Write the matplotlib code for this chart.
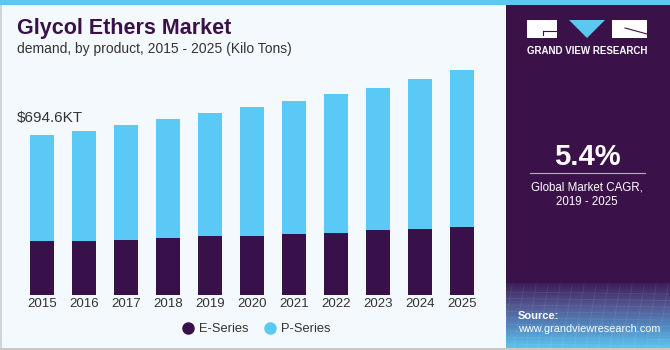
import numpy as np
import matplotlib.pyplot as plt
from matplotlib.patches import Rectangle, Polygon
from matplotlib.lines import Line2D
from matplotlib.colors import LinearSegmentedColormap

plt.rcParams['font.family'] = ['Liberation Sans', 'DejaVu Sans']

# Data (Kilo Tons)
years = ["2015", "2016", "2017", "2018", "2019", "2020",
         "2021", "2022", "2023", "2024", "2025"]
e_series = [234, 234, 239, 249, 256, 256, 263.5, 269, 281, 286.5, 294]
p_series = [460.6, 476.6, 499, 514, 534, 559, 580, 605, 619, 651.5, 684]
series_names = ["E-Series", "P-Series"]
first_label = "$694.6KT"
cagr = "5.4%"

dark = "#38104a"
light = "#5bc9f5"
bg = "#f4f9fd"

W, H = 670, 350
fig = plt.figure(figsize=(6.7, 3.5), dpi=100)
fig.patch.set_facecolor(bg)

# Background / decoration layer in pixel coordinates
deco = fig.add_axes([0, 0, 1, 1], zorder=0)
deco.set_xlim(0, W)
deco.set_ylim(H, 0)
deco.axis("off")
deco.add_patch(Rectangle((0, 0), W, 5, color="#5bc8f0", lw=0))
deco.add_patch(Rectangle((0, 5), 1.5, H, color="#cfd6da", lw=0))
deco.add_patch(Rectangle((0, H - 2), W, 2, color="#c8c8c8", lw=0))
deco.add_patch(Rectangle((506, 5), W - 506, 280, color="#3a1249", lw=0))

# gradient at the panel bottom
cmap = LinearSegmentedColormap.from_list("g", ["#3c1f58", "#52558f", "#5288c0", "#5cc4ef"])
grad = np.linspace(0, 1, 100).reshape(-1, 1)
deco.imshow(grad, cmap=cmap, aspect="auto", extent=(506, W, 348, 283), zorder=1)
for k in range(9):
    yy = 292 + k * 6.5
    deco.plot([506, W], [yy, yy + 2], color="white", alpha=0.08, lw=0.6, zorder=2)
for k in range(14):
    xx = 506 + k * 12
    deco.plot([xx + 6, xx - 4], [285, 348], color="white", alpha=0.08, lw=0.6, zorder=2)

# logo
deco.add_patch(Rectangle((527, 20), 30, 18, color="white", lw=0, zorder=3))
deco.add_patch(Rectangle((612, 20), 35, 18, color="white", lw=0, zorder=3))
deco.add_patch(Polygon([(569, 20), (605, 20), (587, 38)], closed=True, color="#5bc8f0", lw=0, zorder=3))
deco.plot([543, 557], [31, 31], color="#3a1249", lw=0.8, zorder=4)
deco.plot([543, 543], [31, 35], color="#3a1249", lw=0.8, zorder=4)
deco.plot([625, 647], [28, 34], color="#3a1249", lw=0.8, zorder=4)
deco.text(587, 51, "GRAND VIEW RESEARCH", color="white", fontsize=7,
          fontweight="bold", ha="center", va="center", zorder=4)

# CAGR block
deco.text(587, 157, cagr, color="white", fontsize=21, fontweight="bold",
          ha="center", va="center")
deco.plot([530, 645], [173, 173], color="#b9aec4", lw=0.8)
deco.text(587, 188, "Global Market CAGR,", color="white", fontsize=8.3,
          ha="center", va="center")
deco.text(587, 202, "2019 - 2025", color="white", fontsize=8.3,
          ha="center", va="center")

# source
deco.text(518, 316, "Source:", color="white", fontsize=8, fontweight="bold",
          ha="left", va="center", zorder=4)
deco.text(518, 329, "www.grandviewresearch.com", color="white", fontsize=7.8,
          ha="left", va="center", zorder=4)

# titles
deco.text(17, 34, "Glycol Ethers Market", color="#3a1249", fontsize=15.5,
          fontweight="bold", ha="left", va="baseline")
deco.text(17, 53, "demand, by product, 2015 - 2025 (Kilo Tons)", color="#333333",
          fontsize=10, ha="left", va="baseline")
deco.text(17, 118, first_label, color="#333333", fontsize=11, ha="left", va="center")

# Chart axes
ax = fig.add_axes([21 / W, 55 / H, 462 / W, 230.4 / H], zorder=1)
ax.set_facecolor("none")
x = np.arange(len(years))
ax.bar(x, e_series, width=0.58, color=dark, label=series_names[0])
ax.bar(x, p_series, width=0.58, bottom=e_series, color=light, label=series_names[1])
ax.set_xlim(-0.5, len(years) - 0.5)
ax.set_ylim(0, 1000)
ax.set_xticks(x)
ax.set_xticklabels(years, fontsize=9.5, color="#333333")
ax.tick_params(axis="x", length=0, pad=2)
ax.set_yticks([])
for s in ax.spines.values():
    s.set_visible(False)

handles = [Line2D([], [], marker="o", ls="", color=c, markersize=8)
           for c in (dark, light)]
fig.legend(handles, series_names, loc="center", bbox_to_anchor=(256 / W, 1 - 329 / H),
           ncol=2, frameon=False, fontsize=9.3, handletextpad=0.35, columnspacing=1.2,
           handlelength=1.0, labelcolor="#333333")

fig.savefig("out.png", dpi=100, facecolor=fig.get_facecolor())
